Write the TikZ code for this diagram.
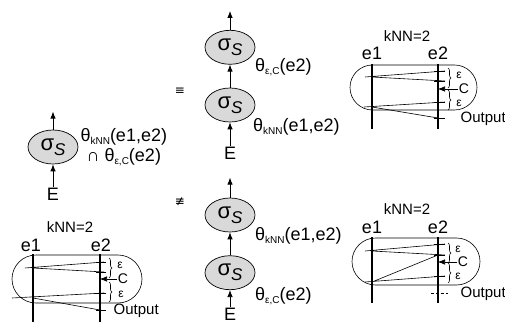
\documentclass[tikz,border=0pt]{standalone}
\usepackage{fontspec}
\setmainfont{Liberation Sans}
\newfontfamily\symfont{DejaVu Sans}
\usetikzlibrary{shapes.geometric,arrows.meta,positioning,decorations.pathreplacing}

\begin{document}
\begin{tikzpicture}[x=1pt, y=1pt, node distance=23pt, >={Latex[length=7pt,width=5.5pt]},
    op/.style={ellipse, draw, line width=0.7pt, fill=gray!30, minimum width=50pt, minimum height=34pt, inner sep=0pt, font=\fontsize{22}{24}\selectfont},
    txt/.style={inner sep=1pt, font=\fontsize{18}{20}\selectfont},
    cond/.style={inner sep=1pt, font=\fontsize{18}{20}\selectfont},
    outlbl/.style={inner sep=0.5pt, font=\fontsize{15}{18}\selectfont},
    small/.style={inner sep=0.5pt, font=\fontsize{15}{16}\selectfont},
    tiny/.style={inner sep=0pt, font=\fontsize{12}{13}\selectfont},
    sym/.style={inner sep=0pt, font=\symfont\fontsize{12}{12}\selectfont},
    eline/.style={line width=1.4pt},
    fine/.style={line width=0.6pt},
    brc/.style={decorate, decoration={brace, amplitude=3pt}, line width=0.6pt}]
    \useasboundingbox (0,0) rectangle (505,324);

    % single selection
    \node[op] (s0) at (53,177) {σ\raisebox{-5pt}{\fontsize{17}{17}\selectfont\itshape S}};
    \node[txt, below=22.5pt of s0] (in0) {E};
    \coordinate[above=18pt of s0] (o0);
    \node[cond, right=1pt of s0, align=center] (c0) {θ\raisebox{-3pt}{\fontsize{10}{10}\selectfont kNN}(e1,e2)\\∩ θ\raisebox{-3pt}{\fontsize{10}{10}\selectfont ε,C}(e2)};
    \draw[->, line width=0.8pt] (s0) -- (o0);
    \draw[->, line width=0.8pt] (in0) -- (s0);

    \node[sym] (eq) at (180,233) {≡};
    \node[sym] (neq) at (180,122) {≢};

    % kNN first, then range
    \node[op] (s2) at (230,219) {σ\raisebox{-5pt}{\fontsize{17}{17}\selectfont\itshape S}};
    \node[op, above=of s2] (s1) {σ\raisebox{-5pt}{\fontsize{17}{17}\selectfont\itshape S}};
    \node[txt, below=23.5pt of s2] (in1) {E};
    \coordinate[above=19pt of s1] (o1);
    \node[cond, below right=-2pt and 6pt of s1.south east] (c1) {θ\raisebox{-3pt}{\fontsize{10}{10}\selectfont ε,C}(e2)};
    \node[cond, below right=0pt and 4pt of s2.south east] (c2) {θ\raisebox{-3pt}{\fontsize{10}{10}\selectfont kNN}(e1,e2)};
    \draw[->, line width=0.8pt] (s1) -- (o1);
    \draw[->, line width=0.8pt] (s2) -- (s1);
    \draw[->, line width=0.8pt] (in1) -- (s2);

    % range first, then kNN
    \node[op] (s3) at (230,109) {σ\raisebox{-5pt}{\fontsize{17}{17}\selectfont\itshape S}};
    \node[op, below=of s3] (s4) {σ\raisebox{-5pt}{\fontsize{17}{17}\selectfont\itshape S}};
    \node[txt, below=17pt of s4] (in2) {E};
    \coordinate[above=20pt of s3] (o3);
    \node[cond, below right=-1pt and 6pt of s3.south east] (c3) {θ\raisebox{-3pt}{\fontsize{10}{10}\selectfont kNN}(e1,e2)};
    \node[cond, below right=1pt and 6pt of s4.south east] (c4) {θ\raisebox{-3pt}{\fontsize{10}{10}\selectfont ε,C}(e2)};
    \draw[->, line width=0.8pt] (s3) -- (o3);
    \draw[->, line width=0.8pt] (s4) -- (s3);
    \draw[->, line width=0.8pt] (in2) -- (s4);

    % top right panel
    \begin{scope}[shift={(372,259)}]
        \draw[fine, rounded corners=22.5pt] (-22,0) rectangle (105,-45);
        \draw[eline] (0,1) -- (0,-64);
        \draw[eline] (66,1) -- (66,-64);
        \node[txt] (a-e1) at (0,12) {e1};
        \node[txt] (a-e2) at (66,12) {e2};
        \node[small] (a-k) at (35,29) {kNN=2};
        \draw[fine] (62,-6) -- (73,-6) (62,-16) -- (73,-16) (62,-37) -- (73,-37) (62,-53) -- (73,-53);
        \draw[fine] (-7,-12) -- (73,-6) (0,-12) -- (73,-16) (-8,-42) -- (73,-37) (0,-42) -- (66,-53);
        \draw[brc] (76,-3) -- (76,-23);
        \draw[brc] (76,-25) -- (76,-45);
        \node[tiny] (a-eps1) at (87,-10) {ε};
        \node[tiny] (a-eps2) at (87,-38) {ε};
        \node[small, font=\fontsize{14}{15}\selectfont] (a-c) at (92,-24) {C};
        \draw[fine, ->] (a-c) -- (66,-24);
        \node[outlbl, anchor=west] (a-out) at (88,-54) {Output};
    \end{scope}

    % bottom right panel
    \begin{scope}[shift={(372,86)}]
        \draw[fine, rounded corners=23.5pt] (-20,0) rectangle (108,-47);
        \draw[eline] (0,1) -- (0,-65);
        \draw[eline] (66,1) -- (66,-65);
        \node[txt] (b-e1) at (0,11) {e1};
        \node[txt] (b-e2) at (66,11) {e2};
        \node[small] (b-k) at (35,29) {kNN=2};
        \draw[fine] (62,-6) -- (73,-6) (62,-17) -- (73,-17) (62,-38) -- (73,-38);
        \draw[densely dashed, line width=0.4pt] (59,-55) -- (76,-55);
        \draw[fine] (-7,-13) -- (73,-6) (0,-13) -- (73,-17) (-7,-44) -- (73,-38) (0,-44) -- (66,-17);
        \draw[brc] (76,-5) -- (76,-25);
        \draw[brc] (76,-25) -- (76,-45);
        \node[tiny] (b-eps1) at (86,-11) {ε};
        \node[tiny] (b-eps2) at (86,-38) {ε};
        \node[small, font=\fontsize{14}{15}\selectfont] (b-c) at (91,-24) {C};
        \draw[fine, ->] (b-c) -- (66,-24);
        \node[outlbl, anchor=west] (b-out) at (88,-56) {Output};
    \end{scope}

    % bottom left panel
    \begin{scope}[shift={(33,69)}]
        \draw[fine, rounded corners=24pt] (-21,0) rectangle (109,-48);
        \draw[eline] (0,1) -- (0,-67);
        \draw[eline] (67,1) -- (67,-67);
        \node[txt] (c-e1) at (-2,10) {e1};
        \node[txt] (c-e2) at (68,10) {e2};
        \node[small] (c-k) at (37,28) {kNN=2};
        \draw[fine] (63,-7) -- (73,-7) (63,-17) -- (73,-17) (63,-38) -- (73,-38) (63,-55) -- (73,-55);
        \draw[fine] (-8,-13) -- (71,-7) (0,-13) -- (71,-17) (-21,-43) -- (71,-38) (0,-43) -- (67,-55);
        \draw[brc] (76,-3) -- (76,-23);
        \draw[brc] (76,-27) -- (76,-47);
        \node[tiny] (c-eps1) at (87,-10) {ε};
        \node[tiny] (c-eps2) at (88,-39) {ε};
        \node[small, font=\fontsize{14}{15}\selectfont] (c-c) at (90,-24) {C};
        \draw[fine, ->] (c-c) -- (67,-24);
        \node[outlbl, anchor=west] (c-out) at (80,-56) {Output};
    \end{scope}
\end{tikzpicture}
\end{document}
